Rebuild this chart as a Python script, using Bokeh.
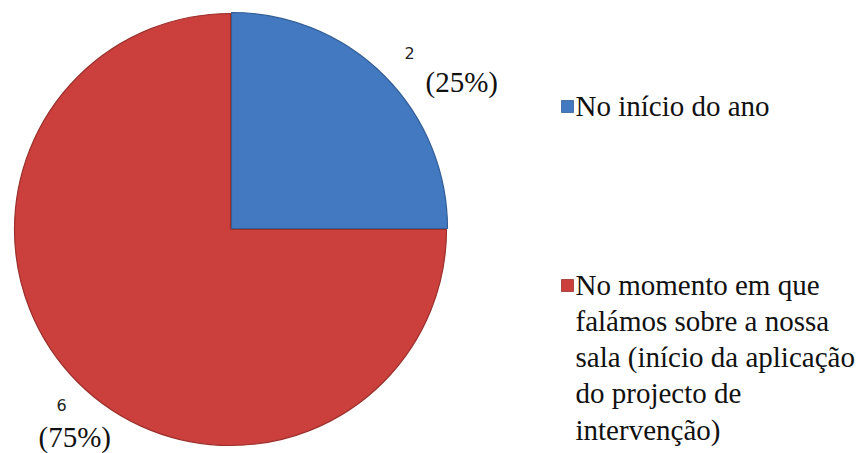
import math
from bokeh.plotting import figure
from bokeh.models import Range1d
from bokeh.core.properties import value
from bokeh.embed import file_html
from bokeh.resources import INLINE

categories = [["No início do ano"],
              ["No momento em que", "falámos sobre a nossa", "sala (início da aplicação",
               "do projecto de", "intervenção)"]]
counts = [2, 6]
percents = ["(25%)", "(75%)"]
colors = ["#4279c0", "#cb3f3c"]
edge_colors = ["#335f98", "#9b302d"]

W, H = 859, 453
p = figure(width=W, height=H, output_backend="svg", toolbar_location=None,
           x_range=Range1d(0, W), y_range=Range1d(0, H), min_border=0)
p.axis.visible = False
p.grid.visible = False
p.outline_line_color = None
p.background_fill_color = "white"

total = sum(counts)
# slices start at 12 o'clock and go clockwise
centers = [(231, H - 228), (230, H - 229)]
radii = [216, 216]
start = math.pi / 2
for i, c in enumerate(counts):
    ang = 2 * math.pi * c / total
    end = start - ang
    cx, cy = centers[i]
    p.wedge(x=[cx], y=[cy], radius=radii[i], start_angle=end, end_angle=start,
            direction="anticlock", fill_color=colors[i], line_color=edge_colors[i],
            line_width=1.2)
    start = end

# legend markers
leg_y = [H - 106, H - 285]
for i in range(len(categories)):
    p.rect(x=[567], y=[leg_y[i]], width=12, height=12, width_units="screen",
           height_units="screen", fill_color=colors[i], line_color=edge_colors[i], line_width=0.8)

SERIF = value("Liberation Serif")

# data labels
num_pos = [(404, H - 52), (56, H - 404)]
pct_pos = [(425, H - 81), (38, H - 436)]
for i in range(len(counts)):
    p.text(x=[num_pos[i][0]], y=[num_pos[i][1]], text=[str(counts[i])],
           text_font=value("DejaVu Sans"), text_font_size="16px", text_color="#222222",
           text_align="left", text_baseline="middle")
    p.text(x=[pct_pos[i][0]], y=[pct_pos[i][1]], text=[percents[i]],
           text_font=SERIF, text_font_size="29px", text_color="#111111",
           text_align="left", text_baseline="middle")

# legend texts
line_step = 36.3
for i, lines in enumerate(categories):
    ys = [leg_y[i] + 1 - k * line_step for k in range(len(lines))]
    p.text(x=[575] * len(lines), y=ys, text=lines, text_font=SERIF,
           text_font_size="29px", text_color="#111111", text_align="left",
           text_baseline="middle")

open("out.html", "w").write(file_html(p, INLINE))
